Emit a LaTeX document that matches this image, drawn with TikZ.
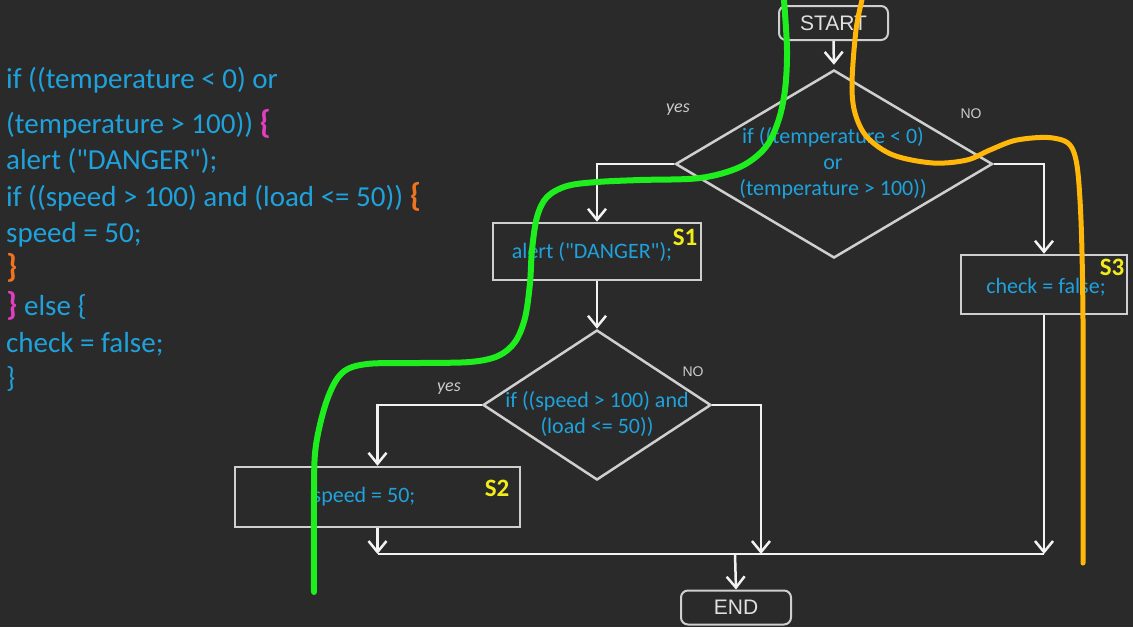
\documentclass[tikz,border=0pt]{standalone}
\usepackage{fontspec}
\setmainfont{Carlito}[Ligatures=TeXOff]
\newfontfamily\chalk{Liberation Sans}
\usetikzlibrary{shapes.geometric,arrows.meta}
\definecolor{bg}{HTML}{2A2A2A}
\definecolor{codeblue}{HTML}{1FA2DC}
\definecolor{pinkb}{HTML}{E23FC0}
\definecolor{orangeb}{HTML}{F0741E}
\definecolor{slabel}{HTML}{F2EC1A}
\definecolor{chalkline}{HTML}{CFCFCF}
\definecolor{greenc}{HTML}{1EEE1E}
\definecolor{orangec}{HTML}{FFB80A}
\begin{document}
\begin{tikzpicture}[x=1pt,y=-1pt,
  code/.style={anchor=base west,inner sep=0pt,text=codeblue,font=\fontsize{29}{34}\selectfont},
  boxtext/.style={inner sep=0pt,text=codeblue,font=\fontsize{22}{26}\selectfont,align=center},
  procbox/.style={draw=chalkline,line width=2.5pt,rectangle,inner sep=0pt},
  decbox/.style={draw=chalkline,line width=2.5pt,diamond,inner sep=0pt},
  termbox/.style={draw=chalkline,line width=2pt,rectangle,rounded corners=7pt,inner sep=0pt,
                  text=white!88!black,font=\chalk\fontsize{21}{24}\selectfont},
  slab/.style={inner sep=0pt,text=slabel,font=\bfseries\fontsize{25}{28}\selectfont},
  anslab/.style={inner sep=0pt,text=white!80!black,font=\fontsize{17}{20}\selectfont},
  conn/.style={draw=white!95!black,line width=2.5pt},
  arr/.style={conn,-{Straight Barb[length=11pt,width=18pt,line width=2.5pt]}},
  handmark/.style={line width=6pt,line cap=round,line join=round}
]
\fill[bg] (0,0) rectangle (1133,627);
\useasboundingbox (0,0) rectangle (1133,627);

% ---- code listing ----
\node[code] (c1) at (6,88)  {if ((temperature < 0) or};
\node[code] (c2) at (6,133) {(temperature > 100)) \textcolor{pinkb}{\bfseries\fontsize{33}{34}\selectfont\{}};
\node[code] (c3) at (6,169) {alert ("DANGER");};
\node[code] (c4) at (6,206) {if ((speed > 100) and (load <= 50)) \textcolor{orangeb}{\bfseries\fontsize{33}{34}\selectfont\{}};
\node[code] (c5) at (6,242) {speed = 50;};
\node[code] (c6) at (6,277) {\textcolor{orangeb}{\bfseries\fontsize{33}{34}\selectfont\}}};
\node[code] (c7) at (6,315) {\textcolor{pinkb}{\bfseries\fontsize{33}{34}\selectfont\}} else \{};
\node[code] (c8) at (6,352) {check = false;};
\node[code] (c9) at (6,387) {\}};

% ---- flowchart shapes ----
\node[termbox,minimum width=109pt,minimum height=34pt] (start) at (833.5,23) {START};
\node[decbox,minimum width=317pt,minimum height=188pt] (d1) at (834,164) {};
\node[boxtext] (d1t) at (833,163) {if ((temperature < 0)\\or\\(temperature > 100))};
\node[procbox,minimum width=208pt,minimum height=57pt] (s1) at (597,251.5) {};
\node[boxtext] (s1t) at (592,252) {alert ("DANGER");};
\node[slab] (s1l) at (685,237) {S1};
\node[decbox,minimum width=228pt,minimum height=150pt] (d2) at (597,405) {};
\node[boxtext] (d2t) at (597,414) {if ((speed > 100) and\\(load <= 50))};
\node[procbox,minimum width=285pt,minimum height=60pt] (s2) at (377.5,497) {};
\node[boxtext] (s2t) at (364,497) {speed = 50;};
\node[slab] (s2l) at (497,488) {S2};
\node[procbox,minimum width=166pt,minimum height=59pt] (s3) at (1044,284.5) {};
\node[boxtext] (s3t) at (1046,287) {check = false;};
\node[slab] (s3l) at (1112,267) {S3};
\node[termbox,minimum width=110pt,minimum height=34pt] (end) at (736,607.5) {END};

% answer labels
\node[anslab,font=\itshape\fontsize{18}{20}\selectfont] (y1) at (678,110) {yes};
\node[anslab,font=\chalk\fontsize{14}{16}\selectfont] (n1) at (971,114) {NO};
\node[anslab,font=\itshape\fontsize{18}{20}\selectfont] (y2) at (449,389) {yes};
\node[anslab,font=\chalk\fontsize{14}{16}\selectfont] (n2) at (693,372) {NO};

% junction points
\coordinate (jl) at (377.5,554);
\coordinate (jm) at (761,554);
\coordinate (jr) at (1044,554);
\coordinate (je) at (735,554);

% ---- connectors ----
\draw[arr,shorten >=4pt] (start.south) -- (d1.north);
\draw[arr] (d1.west) -| (s1.north);
\draw[arr] (d1.east) -| (s3.north);
\draw[arr] (s1.south) -- (d2.north);
\draw[arr] (d2.west) -| (s2.north);
\draw[arr] (d2.east) -| (jm);
\draw[arr] (s2.south) -- (jl);
\draw[arr] (s3.south) -- (jr);
\draw[conn] (jl) -- (jr);
\draw[arr] (je) -- (end.north);

% ---- hand-drawn marks ----
\draw[handmark,greenc] plot[smooth,tension=0.55] coordinates {
  (784,0) (787,50) (785,90) (778,122) (765,148) (740,167) (700,178) (640,180)
  (597,182) (567,186) (547,197) (537,217) (532,250) (530,283) (525,318)
  (515,342) (498,356) (470,362) (420,363) (367,364) (342,373) (327,400) (316,445)
  (314,490) (314,592)};
\draw[handmark,orangec,line width=5pt] plot[smooth,tension=0.55] coordinates {
  (862,0) (856,30) (852,83) (855,113) (867,137) (893,155) (933,163)
  (967,160) (990,150) (1017,140) (1053,138) (1073,150) (1080,200)
  (1083,320) (1083,563)};
\end{tikzpicture}
\end{document}
